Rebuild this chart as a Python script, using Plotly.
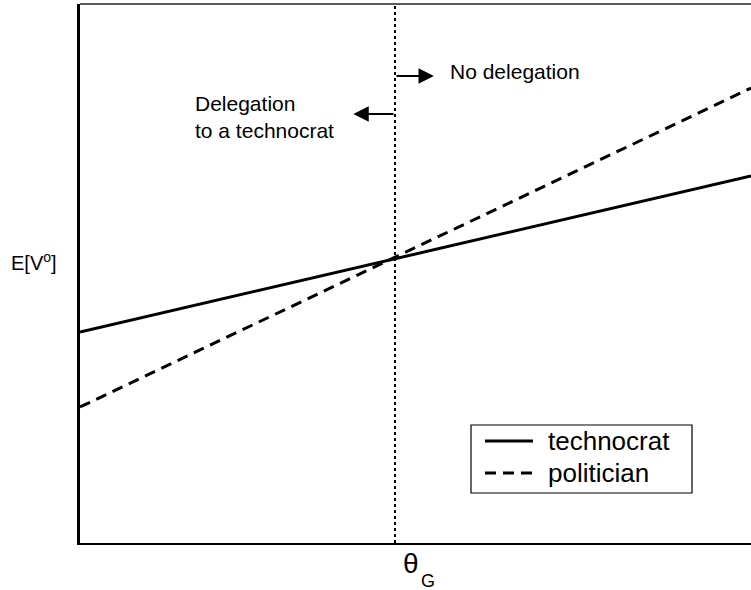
import plotly.graph_objects as go

# Data (arbitrary units)
x_vals = [0.0, 1.0]
technocrat = [211, 367]
politician = [136, 455]
theta_g = 0.4694
y_range = [0, 539]

series_names = ["technocrat", "politician"]
series_dash = ["solid", "11px,7px"]

FONT = "Liberation Sans, Arial, sans-serif"

# pixel helpers for layout positions (plot area: x 80..751, y 4..543)
def px(p):
    return (p - 80) / 671

def py(p):
    return (543 - p) / 539

fig = go.Figure()
for name, vals, dash in zip(series_names, [technocrat, politician], series_dash):
    fig.add_trace(go.Scatter(x=x_vals, y=vals, mode="lines", name=name,
                             line=dict(color="black", width=3, dash=dash)))

# vertical dotted line at theta_G
fig.add_shape(type="line", xref="x", yref="paper", x0=theta_g, x1=theta_g, y0=0, y1=1,
              line=dict(color="black", width=2, dash="dot"))
# top border
fig.add_shape(type="line", xref="paper", yref="paper", x0=0, x1=1, y0=1, y1=1,
              line=dict(color="#222", width=1.5))

# arrows
fig.add_annotation(x=theta_g + 0.058, y=py(76), ax=theta_g, ay=py(76),
                   xref="x", yref="y domain", axref="x", ayref="y domain", text="",
                   showarrow=True, arrowhead=2, arrowsize=1.4, arrowwidth=2.2, arrowcolor="black")
fig.add_annotation(x=theta_g - 0.062, y=py(114), ax=theta_g, ay=py(114),
                   xref="x", yref="y domain", axref="x", ayref="y domain", text="",
                   showarrow=True, arrowhead=2, arrowsize=1.4, arrowwidth=2.2, arrowcolor="black")

fig.add_annotation(x=px(448), y=py(72), xref="paper", yref="paper", text="No delegation",
                   showarrow=False, xanchor="left", yanchor="middle",
                   font=dict(family=FONT, size=21, color="black"))
fig.add_annotation(x=px(193), y=py(117), xref="paper", yref="paper",
                   text="Delegation<br>to a technocrat", align="left",
                   showarrow=False, xanchor="left", yanchor="middle",
                   font=dict(family=FONT, size=21, color="black"))

# axis labels
fig.add_annotation(x=px(59), y=py(261), xref="paper", yref="paper", text="E[V<sup>o</sup>]",
                   showarrow=False, xanchor="right", yanchor="middle",
                   font=dict(family=FONT, size=20, color="black"))
fig.add_annotation(x=px(411), y=py(563), xref="paper", yref="paper",
                   text="θ", showarrow=False, xanchor="center", yanchor="middle",
                   font=dict(family=FONT, size=28, color="black"))
fig.add_annotation(x=px(428), y=py(581), xref="paper", yref="paper",
                   text="G", showarrow=False, xanchor="center", yanchor="middle",
                   font=dict(family=FONT, size=18, color="black"))

# legend box (drawn to match the compact original spacing)
fig.add_shape(type="rect", xref="paper", yref="paper", x0=px(471), x1=px(692),
              y0=py(493), y1=py(425), line=dict(color="black", width=1.2),
              fillcolor="white", layer="above")
legend_rows = [441, 473]
for name, dash, row in zip(series_names, series_dash, legend_rows):
    fig.add_shape(type="line", xref="paper", yref="paper", x0=px(485), x1=px(533),
                  y0=py(row), y1=py(row), line=dict(color="black", width=3, dash=dash),
                  layer="above")
    fig.add_annotation(x=px(546), y=py(row), xref="paper", yref="paper", text=name,
                       showarrow=False, xanchor="left", yanchor="middle",
                       font=dict(family=FONT, size=26, color="black"))

fig.update_layout(
    width=751, height=590,
    margin=dict(l=80, r=0, t=4, b=47),
    paper_bgcolor="white", plot_bgcolor="white",
    showlegend=False,
    xaxis=dict(range=[0, 1], showline=True, linecolor="black", linewidth=1.5,
               showgrid=False, zeroline=False, showticklabels=False, ticks=""),
    yaxis=dict(range=y_range, showline=True, linecolor="black", linewidth=2.5,
               showgrid=False, zeroline=False, showticklabels=False, ticks=""),
)

fig.write_html("out.html", config={"displayModeBar": False},
               post_script="document.body.style.margin='0';document.body.style.overflow='hidden';")
